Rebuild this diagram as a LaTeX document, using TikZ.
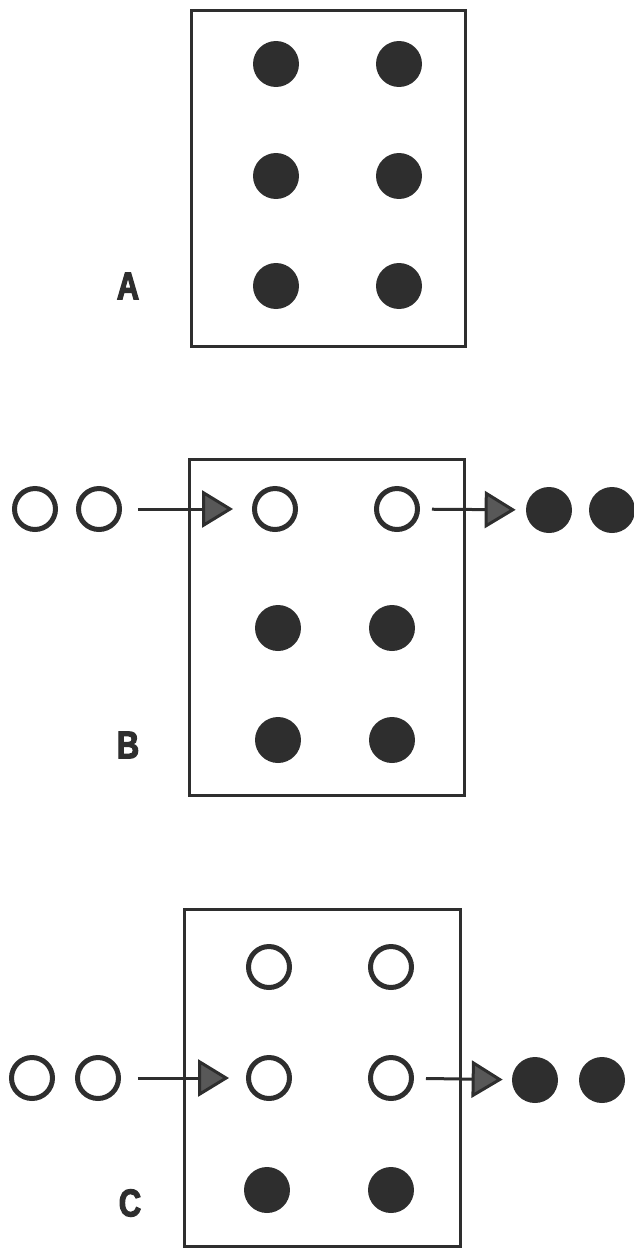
\documentclass[tikz,border=0pt]{standalone}
\usepackage{fontspec}
\usepackage{tikz}
\usetikzlibrary{arrows.meta,positioning}
\newfontfamily\panelfont[FakeStretch=0.8, FakeBold=3]{Liberation Sans Bold}
\definecolor{ink}{HTML}{2E2E2E}

\begin{document}
\begin{tikzpicture}[x=0.02cm, y=-0.02cm,
    full/.style={circle, fill=ink, minimum size=0.92cm, inner sep=0pt},
    hollow/.style={circle, draw=ink, line width=0.1cm, minimum size=0.82cm, inner sep=0pt},
    frame/.style={draw=ink, line width=0.06cm},
    flow/.style={draw=ink, line width=0.06cm, -{Triangle[length=0.62cm, width=0.74cm, fill=ink!80]}},
    tag/.style={font=\panelfont\fontsize{22}{22}\selectfont, text=ink}]
    \useasboundingbox (0,0) rectangle (633,1251);

    % Panel A: all six filled
    \draw[frame] (191,10) rectangle (465,346);
    \node[full] (a11) at (276,64) {};
    \node[full] (a12) at (399,64) {};
    \node[full] (a21) at (276,176) {};
    \node[full] (a22) at (399,176) {};
    \node[full] (a31) at (276,286) {};
    \node[full] (a32) at (399,286) {};
    \node[tag] (labA) at (128,286) {A};

    % Panel B: top row emptied, two in, two out
    \draw[frame] (189,459) rectangle (464,795);
    \node[hollow] (b11) at (275,509) {};
    \node[hollow] (b12) at (397,509) {};
    \node[full] (b21) at (278,628) {};
    \node[full] (b22) at (392,628) {};
    \node[full] (b31) at (278,740) {};
    \node[full] (b32) at (392,740) {};
    \node[tag] (labB) at (128,745) {B};

    \node[hollow] (bin1) at (35,509) {};
    \node[hollow] (bin2) at (99,509) {};
    \node[full] (bout1) at (549,510) {};
    \node[full] (bout2) at (612,510) {};
    \draw[flow, shorten <=0.32cm, shorten >=0.38cm] (bin2) -- (b11);
    \draw[flow, shorten <=0.24cm, shorten >=0.2cm] (b12) -- (bout1);

    % Panel C: two rows emptied
    \draw[frame] (184,909) rectangle (460,1246);
    \node[hollow] (c11) at (269,967) {};
    \node[hollow] (c12) at (391,967) {};
    \node[hollow] (c21) at (269,1078) {};
    \node[hollow] (c22) at (391,1078) {};
    \node[full] (c31) at (267,1190) {};
    \node[full] (c32) at (391,1190) {};
    \node[tag] (labC) at (130,1203) {C};

    \node[hollow] (cin1) at (32,1078) {};
    \node[hollow] (cin2) at (98,1078) {};
    \node[full] (cout1) at (535,1080) {};
    \node[full] (cout2) at (602,1080) {};
    \draw[flow, shorten <=0.34cm, shorten >=0.34cm] (cin2) -- (c21);
    \draw[flow, shorten <=0.24cm, shorten >=0.18cm] (c22) -- (cout1);
  \end{tikzpicture}
\end{document}
